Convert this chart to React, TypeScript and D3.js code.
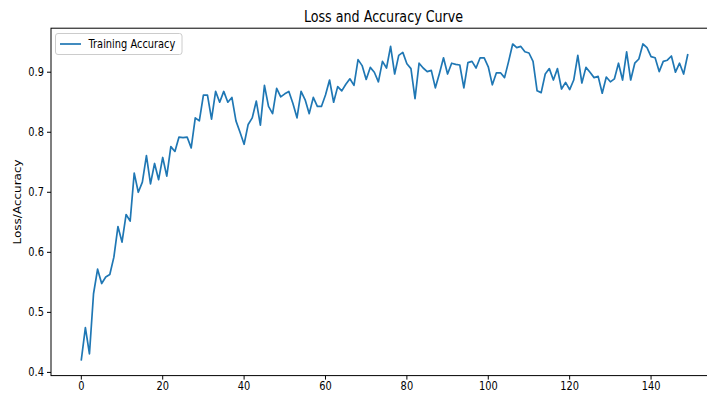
import React from "react";
import * as d3 from "d3";

// Per-epoch training accuracy
const trainingAccuracy: number[] = [
  0.421, 0.4745, 0.431, 0.531, 0.572, 0.548, 0.559, 0.563, 0.592, 0.643,
  0.617, 0.663, 0.652, 0.732, 0.7, 0.717, 0.761, 0.714, 0.748, 0.721,
  0.758, 0.727, 0.776, 0.768, 0.792, 0.791, 0.792, 0.774, 0.824, 0.819,
  0.862, 0.862, 0.822, 0.868, 0.85, 0.868, 0.85, 0.858, 0.819, 0.8,
  0.78, 0.813, 0.824, 0.852, 0.812, 0.878, 0.843, 0.831, 0.873, 0.859,
  0.864, 0.868, 0.848, 0.824, 0.868, 0.854, 0.831, 0.858, 0.843, 0.843,
  0.862, 0.887, 0.85, 0.876, 0.869, 0.88, 0.889, 0.878, 0.921, 0.911,
  0.888, 0.908, 0.9, 0.884, 0.918, 0.907, 0.943, 0.897, 0.928, 0.933,
  0.914, 0.906, 0.856, 0.915, 0.907, 0.901, 0.903, 0.874, 0.898, 0.924,
  0.897, 0.915, 0.913, 0.912, 0.874, 0.916, 0.918, 0.907, 0.924, 0.924,
  0.909, 0.879, 0.899, 0.899, 0.891, 0.918, 0.947, 0.941, 0.943, 0.934,
  0.932, 0.918, 0.869, 0.866, 0.897, 0.906, 0.887, 0.906, 0.872, 0.883,
  0.871, 0.887, 0.928, 0.882, 0.908, 0.9, 0.891, 0.893, 0.865, 0.892,
  0.884, 0.889, 0.915, 0.887, 0.934, 0.887, 0.915, 0.922, 0.947, 0.941,
  0.926, 0.924, 0.901, 0.918, 0.92, 0.927, 0.9, 0.915, 0.897, 0.929,
];

const xTicks: number[] = [0, 20, 40, 60, 80, 100, 120, 140];
const yTicks: number[] = [0.4, 0.5, 0.6, 0.7, 0.8, 0.9];

const chartTitle = "Loss and Accuracy Curve";
const yAxisLabel = "Loss/Accuracy";
const seriesLabel = "Training Accuracy";

const W = 707;
const H = 396;
const plot = { left: 51, right: 718, top: 28.2, bottom: 375.6 };
const squeeze = 0.82;
const lineColor = "#1f77b4";
const font = "'DejaVu Sans', sans-serif";

export default function App() {
  const n = trainingAccuracy.length;
  const xPad = (n - 1) * 0.05;
  const yMin = d3.min(trainingAccuracy)!;
  const yMax = d3.max(trainingAccuracy)!;
  const yPad = (yMax - yMin) * 0.05;

  const x = d3
    .scaleLinear()
    .domain([-xPad, n - 1 + xPad])
    .range([plot.left, plot.right]);
  const y = d3
    .scaleLinear()
    .domain([yMin - yPad, yMax + yPad])
    .range([plot.bottom, plot.top]);

  const line = d3
    .line<number>()
    .x((_, i) => x(i))
    .y((d) => y(d));

  const cx = (plot.left + plot.right) / 2;
  const cy = (plot.top + plot.bottom) / 2;

  return (
    <svg
      width={W}
      height={H}
      viewBox={`0 0 ${W} ${H}`}
      style={{ position: "absolute", left: 0, top: 0, background: "#fff" }}
      fontFamily={font}
    >
      <rect x={0} y={0} width={W} height={H} fill="#fff" />

      {/* data line */}
      <path
        d={line(trainingAccuracy) ?? ""}
        fill="none"
        stroke={lineColor}
        strokeWidth={1.7}
        strokeLinejoin="round"
        strokeLinecap="square"
      />

      {/* frame */}
      <rect
        x={plot.left}
        y={plot.top}
        width={plot.right - plot.left}
        height={plot.bottom - plot.top}
        fill="none"
        stroke="#000"
        strokeWidth={1}
      />

      {/* x axis ticks */}
      {xTicks.map((t) => (
        <g key={`x${t}`}>
          <line
            x1={x(t)}
            x2={x(t)}
            y1={plot.bottom}
            y2={plot.bottom + 4}
            stroke="#000"
            strokeWidth={1}
          />
          <text
            transform={`translate(${x(t)},${plot.bottom + 6}) scale(${squeeze},1)`}
            textAnchor="middle"
            dominantBaseline="hanging"
            fontSize={12}
            fill="#000"
          >
            {t}
          </text>
        </g>
      ))}

      {/* y axis ticks */}
      {yTicks.map((t) => (
        <g key={`y${t}`}>
          <line
            x1={plot.left - 4}
            x2={plot.left}
            y1={y(t)}
            y2={y(t)}
            stroke="#000"
            strokeWidth={1}
          />
          <text
            transform={`translate(${plot.left - 7},${y(t)}) scale(${squeeze},1)`}
            textAnchor="end"
            dominantBaseline="central"
            fontSize={12}
            fill="#000"
          >
            {d3.format(".1f")(t)}
          </text>
        </g>
      ))}

      {/* title */}
      <text
        transform={`translate(${cx - 1},${plot.top - 6.5}) scale(${squeeze},1)`}
        textAnchor="middle"
        fontSize={15.5}
        fill="#000"
      >
        {chartTitle}
      </text>

      {/* y axis label */}
      <text
        transform={`translate(18,${cy}) rotate(-90) scale(1,${squeeze})`}
        textAnchor="middle"
        dominantBaseline="central"
        fontSize={12}
        fill="#000"
      >
        {yAxisLabel}
      </text>

      {/* legend */}
      <g>
        <rect
          x={55.5}
          y={33.5}
          width={126.5}
          height={21}
          rx={2.5}
          fill="#fff"
          fillOpacity={0.8}
          stroke="#cccccc"
          strokeWidth={1}
        />
        <line x1={60} x2={81} y1={44} y2={44} stroke={lineColor} strokeWidth={1.7} />
        <text
          transform={`translate(88.5,44) scale(${squeeze},1)`}
          dominantBaseline="central"
          fontSize={12}
          fill="#000"
        >
          {seriesLabel}
        </text>
      </g>
    </svg>
  );
}
